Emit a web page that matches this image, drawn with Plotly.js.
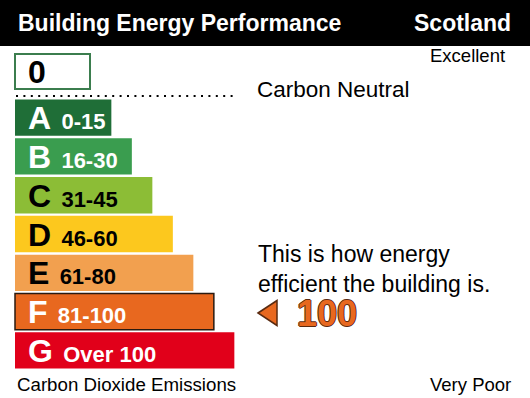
<!DOCTYPE html>
<html>
<head>
<meta charset="utf-8">
<script src="https://cdn.plot.ly/plotly-3.0.1.min.js"></script>
<style>
  html, body { margin: 0; padding: 0; background: #fff; }
  #chart { width: 530px; height: 398px; }
</style>
</head>
<body>
<div id="chart"></div>
<script>
// ---- data ----
const categories   = ['A', 'B', 'C', 'D', 'E', 'F', 'G'];
const bandRanges   = ['0-15', '16-30', '31-45', '46-60', '61-80', '81-100', 'Over 100'];
const barLengths   = [47, 57, 67, 77, 87, 97, 107];
const barColors    = ['#1f6e37', '#3a9d4f', '#8cbd36', '#fcc81e', '#f2a04f', '#e8681f', '#e1001a'];
const labelColors  = ['#ffffff', '#ffffff', '#000000', '#000000', '#000000', '#ffffff', '#ffffff'];
const ratingValue  = 100;
const ratingBand   = 'F';
const topScore     = 0;

// ---- layout helpers (pixel -> paper) ----
const W = 530, H = 398;
const px = x => x / W;
const py = y => 1 - y / H;
const FONT = 'Arial, "Liberation Sans", sans-serif';

const trace = {
  type: 'bar',
  orientation: 'h',
  y: categories,
  x: barLengths,
  width: 0.936,
  marker: {
    color: barColors,
    line: {
      color: categories.map(c => c === ratingBand ? '#2a1a10' : 'rgba(0,0,0,0)'),
      width: categories.map(c => c === ratingBand ? 1.5 : 0)
    }
  },
  hoverinfo: 'skip'
};

const annotations = [];
categories.forEach((c, i) => {
  annotations.push({
    xref: 'x', yref: 'y', x: 0, y: c,
    xanchor: 'left', yanchor: 'middle', xshift: 11, yshift: 1,
    showarrow: false,
    text: '<b><span style="font-size:32px">' + c + '</span><span style="font-size:37px"> </span><span style="font-size:22px">' + bandRanges[i] + '</span></b>',
    font: { family: FONT, size: 22, color: labelColors[i] }
  });
});

// header
annotations.push({ xref: 'paper', yref: 'paper', x: px(16), y: py(23), xanchor: 'left', yanchor: 'middle',
  showarrow: false, text: '<b>Building Energy Performance</b>', font: { family: FONT, size: 23, color: '#fff' } });
annotations.push({ xref: 'paper', yref: 'paper', x: px(513), y: py(23), xanchor: 'right', yanchor: 'middle',
  showarrow: false, text: '<b>Scotland</b>', font: { family: FONT, size: 23, color: '#fff' } });
annotations.push({ xref: 'paper', yref: 'paper', x: px(507), y: py(56), xanchor: 'right', yanchor: 'middle',
  showarrow: false, text: 'Excellent', font: { family: FONT, size: 18.5, color: '#000' } });
annotations.push({ xref: 'paper', yref: 'paper', x: px(26), y: py(72), xanchor: 'left', yanchor: 'middle',
  showarrow: false, text: '<b>' + topScore + '</b>', font: { family: FONT, size: 32, color: '#000' } });
annotations.push({ xref: 'paper', yref: 'paper', x: px(255), y: py(89), xanchor: 'left', yanchor: 'middle',
  showarrow: false, text: 'Carbon Neutral', font: { family: FONT, size: 22.5, color: '#000' } });
annotations.push({ xref: 'paper', yref: 'paper', x: px(256), y: py(269), xanchor: 'left', yanchor: 'middle',
  showarrow: false, align: 'left', text: 'This is how energy<br>efficient the building is.', font: { family: FONT, size: 23, color: '#000' } });
annotations.push({ xref: 'paper', yref: 'paper', x: px(295), y: py(313), xanchor: 'left', yanchor: 'middle',
  showarrow: false, text: '<b>' + ratingValue + '</b>',
  font: { family: FONT, size: 36, color: '#e8681f',
    shadow: '1px 0 0 #5a2a10, -1px 0 0 #5a2a10, 0 1px 0 #5a2a10, 0 -1px 0 #5a2a10' } });
annotations.push({ xref: 'paper', yref: 'paper', x: px(15), y: py(384), xanchor: 'left', yanchor: 'middle',
  showarrow: false, text: 'Carbon Dioxide Emissions', font: { family: FONT, size: 18.7, color: '#000' } });
annotations.push({ xref: 'paper', yref: 'paper', x: px(513), y: py(384), xanchor: 'right', yanchor: 'middle',
  showarrow: false, text: 'Very Poor', font: { family: FONT, size: 18.5, color: '#000' } });

const shapes = [
  { type: 'rect', xref: 'paper', yref: 'paper', x0: 0, x1: 1, y0: py(46), y1: 1, fillcolor: '#000', line: { width: 0 }, layer: 'below' },
  { type: 'rect', xref: 'paper', yref: 'paper', x0: px(15), x1: px(90), y0: py(89), y1: py(54), fillcolor: 'rgba(0,0,0,0)', line: { color: '#3b7d4e', width: 2 } },
  { type: 'line', xref: 'paper', yref: 'paper', x0: px(16), x1: px(233), y0: py(96), y1: py(96), line: { color: '#000', width: 2, dash: '2px,5.4px' } },
  { type: 'path', xref: 'paper', yref: 'paper',
    path: 'M' + px(258) + ',' + py(313) + ' L' + px(277) + ',' + py(300.5) + ' L' + px(277) + ',' + py(325.5) + ' Z',
    fillcolor: '#e8681f', line: { color: '#5a2a10', width: 1.5 } }
];

const layout = {
  width: W, height: H,
  margin: { l: 0, r: 0, t: 0, b: 0 },
  paper_bgcolor: '#fff', plot_bgcolor: '#fff',
  showlegend: false,
  xaxis: { range: [-15 / 2.05, (W - 15) / 2.05], visible: false, fixedrange: true },
  yaxis: { type: 'category', categoryorder: 'array', categoryarray: categories,
           range: [(H - 117.7) / 38.77, -117.7 / 38.77], visible: false, fixedrange: true },
  annotations: annotations,
  shapes: shapes,
  hovermode: false
};

Plotly.newPlot('chart', [trace], layout, { displayModeBar: false, staticPlot: true });
</script>
</body>
</html>
